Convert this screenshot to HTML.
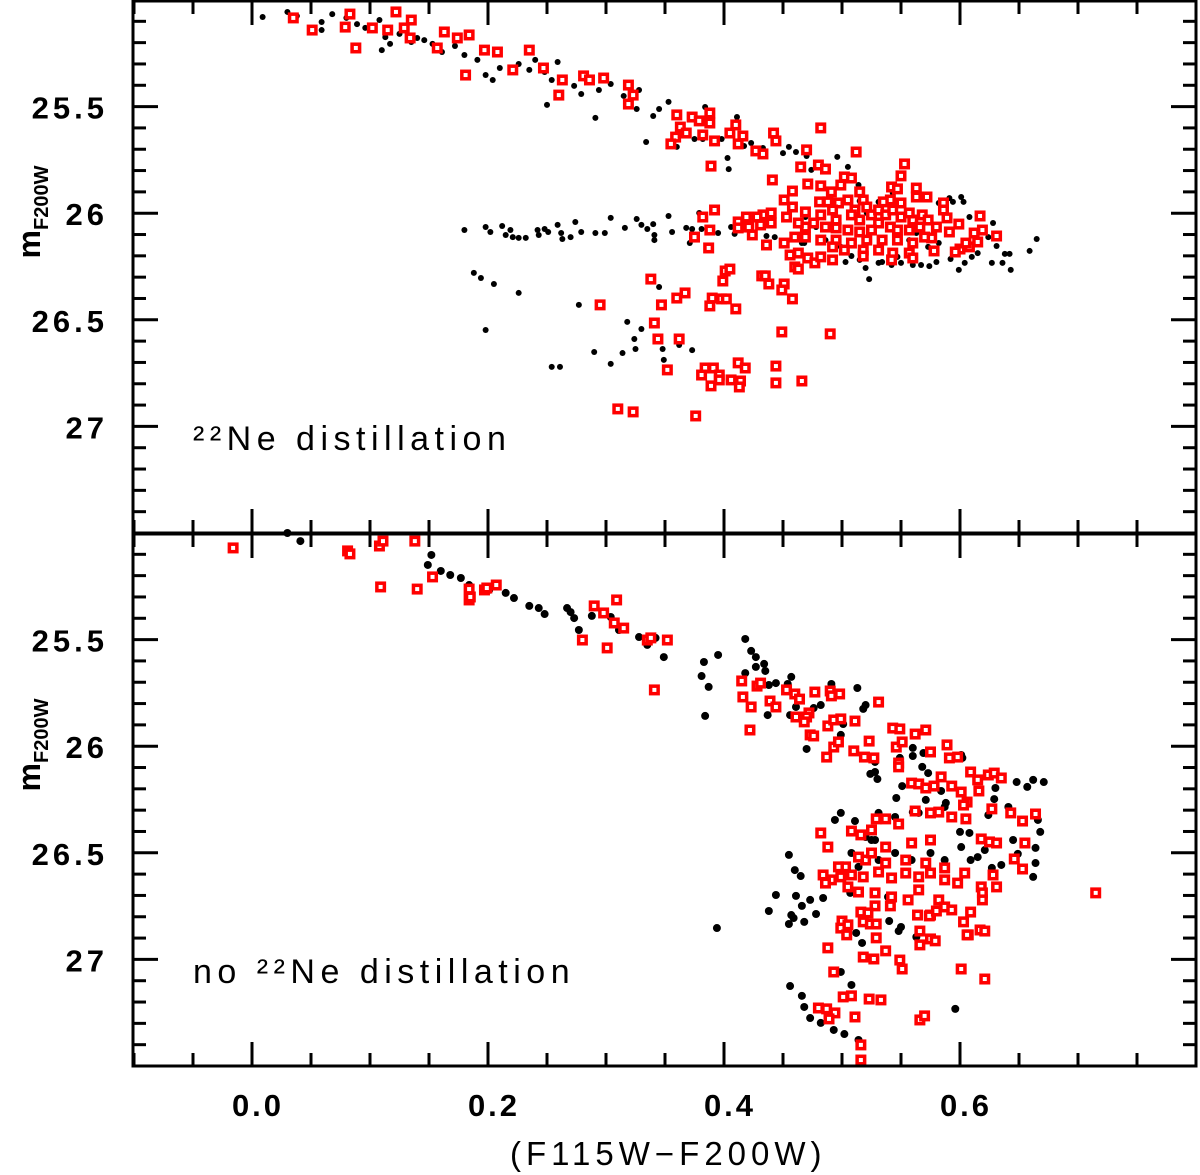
<!DOCTYPE html>
<html><head><meta charset="utf-8"><style>
html,body{margin:0;padding:0;background:#fff;}
svg{display:block;}
text{font-family:"Liberation Sans",sans-serif;font-weight:bold;fill:#000;}
</style></head><body>
<svg id="chart" width="1200" height="1175" viewBox="0 0 1200 1175" xmlns="http://www.w3.org/2000/svg">
<g id="marks-top"></g>
<g id="marks-bot"></g>
<g id="axes"></g>
<text x="193" y="450" font-size="34" letter-spacing="5.5" style="font-weight:normal">²²Ne distillation</text>
<text x="193" y="983" font-size="34" letter-spacing="5.5" style="font-weight:normal">no ²²Ne distillation</text>
<text x="510" y="1165" font-size="33" letter-spacing="5" style="font-weight:normal">(F115W−F200W)</text>
<text transform="translate(40,212) rotate(-90)" font-size="32" text-anchor="middle">m<tspan font-size="20" dy="8">F200W</tspan></text>
<text transform="translate(40,745) rotate(-90)" font-size="32" text-anchor="middle">m<tspan font-size="20" dy="8">F200W</tspan></text>
</svg>
<script>
const topBlackX=[0.009,0.030,0.038,0.059,0.059,0.068,0.080,0.089,0.096,0.108,0.110,0.113,0.117,0.125,0.135,0.140,0.146,0.153,0.161,0.172,0.180,0.191,0.198,0.204,0.210,0.220,0.226,0.235,0.240,0.248,0.250,0.254,0.259,0.265,0.273,0.279,0.291,0.294,0.304,0.315,0.328,0.326,0.340,0.345,0.353,0.384,0.334,0.360,0.375,0.382,0.398,0.411,0.417,0.423,0.433,0.403,0.404,0.450,0.455,0.461,0.470,0.474,0.496,0.505,0.514,
0.180,0.198,0.202,0.212,0.215,0.219,0.221,0.226,0.232,0.242,0.243,0.248,0.251,0.259,0.262,0.263,0.270,0.274,0.279,0.291,0.299,0.304,0.316,0.326,0.330,0.335,0.340,0.341,0.341,0.353,0.356,0.368,0.373,0.371,0.379,0.381,0.395,0.406,0.409,0.424,0.436,0.443,0.469,0.478,0.465,0.468,0.486,0.503,0.508,0.518,0.523,0.520,0.531,0.534,0.542,0.550,0.560,0.567,0.574,0.580,0.592,0.599,0.604,0.610,0.615,0.627,0.636,0.638,0.642,0.643,0.659,0.665,0.628,0.624,0.631,0.608,0.591,0.601,0.603,0.594,0.582,0.543,0.534,0.531,0.515,0.573,0.580,0.582,0.557,0.547,0.515,0.499,0.466,0.563,0.541,0.521,
0.188,0.194,0.205,0.226,0.198,0.277,0.345,0.318,0.330,0.324,0.325,0.290,0.314,0.304,0.254,0.261,0.348,0.349,0.362,0.364,0.373];
const topBlackY=[25.080,25.056,25.075,25.103,25.141,25.066,25.084,25.113,25.131,25.094,25.235,25.174,25.206,25.159,25.197,25.178,25.188,25.206,25.244,25.216,25.258,25.281,25.352,25.375,25.319,25.338,25.300,25.328,25.281,25.338,25.492,25.375,25.291,25.366,25.403,25.441,25.553,25.422,25.394,25.450,25.422,25.511,25.544,25.511,25.478,25.502,25.666,25.689,25.652,25.652,25.652,25.549,25.685,25.671,25.694,25.741,25.793,25.718,25.689,25.713,25.732,25.797,25.736,25.783,25.868,
26.079,26.065,26.088,26.060,26.102,26.079,26.112,26.116,26.116,26.079,26.102,26.074,26.088,26.055,26.093,26.121,26.112,26.041,26.088,26.093,26.093,26.022,26.069,26.027,26.055,26.074,26.051,26.102,26.126,26.013,26.088,26.069,26.074,26.140,25.999,26.074,26.093,26.065,26.097,26.102,26.107,26.112,26.018,26.065,26.102,26.140,26.126,26.229,26.201,26.205,26.309,26.257,26.233,26.229,26.243,26.233,26.243,26.243,26.248,26.229,26.215,26.266,26.233,26.205,26.187,26.233,26.233,26.191,26.191,26.266,26.177,26.121,26.046,26.112,26.154,26.018,25.929,25.924,25.947,25.947,25.952,25.905,25.938,25.947,25.943,26.158,26.173,26.140,26.126,26.205,26.219,26.158,26.140,26.093,26.065,25.999,
26.280,26.304,26.332,26.374,26.548,26.430,26.346,26.510,26.543,26.590,26.637,26.651,26.656,26.707,26.721,26.721,26.637,26.688,26.618,26.590,26.642];
const topRedX=[0.035,0.051,0.079,0.083,0.088,0.102,0.115,0.122,0.129,0.134,0.135,0.157,0.163,0.174,0.181,0.184,0.197,0.208,0.221,0.235,0.247,0.260,0.263,0.281,0.286,0.298,0.319,0.323,0.319,0.360,0.373,0.379,0.388,0.388,0.363,0.368,0.359,0.355,0.382,0.392,0.405,0.410,0.416,0.412,0.427,0.433,0.442,0.444,0.482,0.470,0.512,0.389,0.465,0.480,0.486,0.441,0.458,0.471,0.482,0.491,0.499,0.502,0.508,0.553,0.550,0.542,0.547,0.563,0.563,0.572,0.586,0.586,0.617,0.631,0.619,0.612,0.615,0.608,0.600,0.605,0.596,0.599,0.589,0.591,0.578,0.576,0.568,0.560,0.550,0.541,0.535,
0.515,0.518,0.521,0.511,0.505,0.497,0.488,0.481,0.492,0.482,0.495,0.508,0.515,0.525,0.531,0.537,0.543,0.550,0.557,0.531,0.541,0.547,0.557,0.566,0.573,0.580,0.525,0.515,0.505,0.495,0.486,0.476,0.469,0.463,0.453,0.451,0.458,0.469,0.440,0.433,0.428,0.419,0.412,0.412,0.421,0.431,0.440,0.424,0.436,0.451,0.460,0.469,0.482,0.495,0.508,0.521,0.534,0.547,0.560,0.570,0.492,0.502,0.518,0.531,0.543,0.557,0.456,0.463,0.471,0.477,0.482,0.492,0.518,0.542,0.560,0.460,0.463,0.382,0.392,0.388,0.375,0.387,
0.338,0.401,0.405,0.399,0.432,0.435,0.438,0.451,0.449,0.367,0.360,0.347,0.295,0.390,0.398,0.402,0.388,0.410,0.458,0.341,0.449,0.490,0.344,0.362,0.352,0.384,0.391,0.381,0.396,0.396,0.389,0.406,0.412,0.418,0.414,0.413,0.444,0.444,0.466,0.310,0.323,0.376];
const topRedY=[25.084,25.141,25.127,25.066,25.225,25.131,25.141,25.056,25.131,25.178,25.094,25.225,25.150,25.178,25.352,25.164,25.235,25.244,25.328,25.235,25.319,25.446,25.375,25.356,25.375,25.366,25.399,25.446,25.488,25.539,25.549,25.567,25.530,25.577,25.596,25.624,25.643,25.675,25.633,25.661,25.624,25.586,25.638,25.675,25.708,25.722,25.624,25.661,25.600,25.703,25.713,25.779,25.783,25.774,25.793,25.844,25.896,25.863,25.872,25.900,25.868,25.830,25.835,25.769,25.825,25.877,25.886,25.882,25.924,25.924,25.952,25.985,26.013,26.107,26.079,26.093,26.135,26.158,26.168,26.140,26.182,26.051,26.022,26.088,26.177,26.116,26.008,26.032,25.952,25.938,25.947,
25.900,25.938,25.971,25.985,25.938,25.952,25.947,25.947,25.985,26.008,26.032,26.008,26.032,26.008,25.985,26.008,25.985,26.018,25.999,26.046,26.065,26.079,26.079,26.065,26.032,26.065,26.079,26.088,26.079,26.069,26.065,26.046,26.065,26.046,26.018,25.938,25.971,25.994,25.999,26.008,26.018,26.018,26.041,26.069,26.065,26.055,26.046,26.102,26.149,26.140,26.112,26.112,26.126,26.126,26.140,26.126,26.126,26.126,26.140,26.112,26.158,26.173,26.173,26.173,26.187,26.187,26.196,26.187,26.210,26.233,26.205,26.219,26.201,26.219,26.210,26.252,26.262,26.018,25.985,26.079,26.112,26.163,
26.309,26.271,26.262,26.318,26.294,26.294,26.332,26.332,26.360,26.374,26.398,26.430,26.430,26.398,26.402,26.402,26.435,26.449,26.402,26.515,26.557,26.566,26.590,26.590,26.735,26.726,26.726,26.759,26.759,26.782,26.810,26.782,26.702,26.726,26.787,26.815,26.717,26.796,26.787,26.918,26.932,26.951];
const botBlackX=[0.030,0.041,0.152,0.149,0.160,0.168,0.177,0.184,0.201,0.215,0.222,0.235,0.243,0.248,0.267,0.270,0.273,0.277,0.288,0.304,0.311,0.328,0.335,0.342,0.349,0.383,0.381,0.387,0.384,0.395,0.418,0.423,0.427,0.427,0.418,0.434,0.435,0.438,0.444,0.437,0.457,0.454,0.456,0.461,0.476,0.482,0.491,0.499,0.501,0.499,0.470,0.513,0.518,0.520,0.524,0.530,0.528,0.528,0.549,0.560,0.560,0.569,0.568,0.573,0.571,0.584,0.588,0.601,0.602,0.551,0.546,0.560,0.648,0.657,0.662,0.671,0.630,0.629,0.641,0.624,0.666,0.668,0.645,0.664,0.664,0.662,0.649,0.635,0.627,
0.499,0.494,0.511,0.531,0.545,0.565,0.587,0.600,0.608,0.615,0.621,0.609,0.520,0.508,0.514,0.525,0.531,0.545,0.559,0.575,0.587,0.601,0.528,0.455,0.460,0.465,0.444,0.461,0.438,0.466,0.473,0.478,0.457,0.459,0.468,0.455,0.484,0.507,0.539,0.540,0.550,0.548,0.512,0.517,0.563,0.394,0.499,0.508,0.456,0.466,0.468,0.482,0.502,0.596,0.473,0.493,0.514];
const botBlackY=[25.000,25.038,25.103,25.150,25.178,25.197,25.211,25.244,25.267,25.281,25.305,25.342,25.352,25.380,25.352,25.371,25.399,25.455,25.389,25.394,25.455,25.488,25.525,25.492,25.582,25.605,25.671,25.722,25.858,25.572,25.497,25.553,25.582,25.628,25.657,25.614,25.647,25.713,25.704,25.854,25.675,25.708,25.854,25.816,25.821,25.807,25.708,25.755,25.896,25.947,26.013,25.727,25.825,25.807,26.130,26.154,26.121,26.074,26.055,26.008,26.046,26.032,26.097,26.126,26.252,26.210,26.266,26.041,26.055,26.187,26.243,26.309,26.168,26.191,26.158,26.168,26.196,26.248,26.285,26.323,26.346,26.402,26.440,26.477,26.548,26.613,26.505,26.557,26.571,
26.313,26.346,26.351,26.313,26.332,26.313,26.285,26.402,26.407,26.520,26.487,26.534,26.426,26.501,26.566,26.440,26.534,26.501,26.534,26.501,26.534,26.473,26.440,26.510,26.581,26.609,26.698,26.702,26.773,26.749,26.721,26.787,26.792,26.806,26.824,26.834,26.712,26.688,26.707,26.820,26.848,26.867,26.876,26.923,26.895,26.853,27.059,27.120,27.125,27.171,27.223,27.298,27.350,27.232,27.275,27.331,27.378];
const botRedX=[-0.016,0.081,0.083,0.108,0.111,0.109,0.138,0.140,0.153,0.184,0.185,0.197,0.199,0.207,0.184,0.280,0.290,0.298,0.309,0.307,0.301,0.315,0.335,0.338,0.352,0.341,0.415,0.416,0.423,0.422,0.428,0.431,0.439,0.444,0.453,0.460,0.464,0.477,0.472,0.470,0.461,0.468,0.473,0.476,0.490,0.491,0.498,0.488,0.493,0.499,0.511,0.493,0.497,0.487,0.510,0.519,0.523,0.527,0.531,0.543,0.549,0.546,0.551,0.562,0.571,0.575,0.589,0.591,0.598,0.548,0.548,0.559,0.565,0.571,0.578,0.584,0.593,0.601,0.609,0.615,0.616,0.624,0.629,0.635,0.606,0.627,0.643,0.653,0.664,0.655,0.646,0.653,0.715,
0.482,0.488,0.508,0.516,0.525,0.529,0.537,0.548,0.562,0.575,0.582,0.593,0.605,0.603,0.618,0.625,0.631,0.628,0.631,0.618,0.619,0.619,0.609,0.603,0.607,0.617,0.621,0.484,0.491,0.499,0.508,0.518,0.531,0.542,0.554,0.565,0.575,0.587,0.598,0.604,0.503,0.520,0.537,0.554,0.571,0.587,0.559,0.575,0.537,0.525,0.514,0.497,0.486,0.505,0.514,0.528,0.542,0.556,0.565,0.582,0.587,0.575,0.593,0.564,0.574,0.580,0.528,0.541,0.516,0.522,0.500,0.499,0.505,0.504,0.518,0.524,0.529,0.529,0.566,0.566,0.575,0.579,0.606,0.488,0.518,0.527,0.537,0.549,0.551,0.601,0.621,0.493,0.501,0.508,0.523,0.533,0.480,0.487,0.494,0.489,0.511,0.516,0.516,0.566,0.570];
const botRedY=[25.070,25.084,25.098,25.061,25.038,25.253,25.038,25.263,25.206,25.314,25.300,25.267,25.258,25.244,25.263,25.502,25.342,25.375,25.314,25.422,25.539,25.446,25.502,25.492,25.502,25.736,25.694,25.769,25.816,25.924,25.718,25.704,25.788,25.816,25.736,25.755,25.779,25.746,25.844,25.863,25.863,25.886,25.947,25.952,25.741,25.764,25.755,25.905,25.877,25.872,25.882,26.004,25.980,26.051,26.022,26.051,25.976,26.055,25.793,25.915,25.919,26.004,25.980,25.943,25.924,26.027,25.994,26.055,26.051,26.079,26.097,26.173,26.177,26.196,26.187,26.144,26.187,26.215,26.121,26.158,26.210,26.135,26.126,26.149,26.262,26.294,26.313,26.351,26.318,26.454,26.529,26.576,26.688,
26.407,26.473,26.398,26.416,26.393,26.341,26.341,26.365,26.304,26.313,26.309,26.332,26.341,26.276,26.435,26.449,26.454,26.604,26.660,26.660,26.688,26.721,26.778,26.824,26.885,26.862,26.867,26.604,26.627,26.613,26.604,26.613,26.590,26.618,26.595,26.613,26.595,26.627,26.642,26.595,26.566,26.534,26.548,26.534,26.548,26.571,26.454,26.440,26.473,26.501,26.520,26.566,26.642,26.660,26.684,26.688,26.707,26.721,26.674,26.721,26.754,26.792,26.768,26.792,26.796,26.773,26.749,26.749,26.778,26.782,26.820,26.853,26.838,26.885,26.824,26.834,26.834,26.899,26.867,26.932,26.904,26.913,26.885,26.946,26.989,26.998,26.960,27.003,27.045,27.045,27.092,27.059,27.176,27.171,27.186,27.190,27.228,27.232,27.251,27.279,27.270,27.401,27.472,27.284,27.265];
const xTickLabels=["0.0","0.2","0.4","0.6"];
const yTickLabels=["25.5","26","26.5","27"];

const NS="http://www.w3.org/2000/svg";
const X0=134,X1=1196,XMIN=-0.1,XMAX=0.8,YMIN=25,YMAX=27.5,PH=533;
function sx(v){return X0+(v-XMIN)/(XMAX-XMIN)*(X1-X0);}
function sy(v,off){return off+(v-YMIN)/(YMAX-YMIN)*PH;}
function mk(tag,attrs,parent){const e=document.createElementNS(NS,tag);for(const k in attrs)e.setAttribute(k,attrs[k]);parent.appendChild(e);return e;}

function drawPanel(g,off,bx,by,rx,ry,r){
  for(let i=0;i<bx.length;i++){
    const c=mk('circle',{cx:sx(bx[i]),cy:sy(by[i],off),r:r,fill:'#000'},g);
    
    
  }
  for(let i=0;i<rx.length;i++){
    const s=mk('rect',{x:sx(rx[i])-3.75,y:sy(ry[i],off)-3.75,width:7.5,height:7.5,fill:'#fff',stroke:'#f00','stroke-width':3.5},g);
    
    
  }
}
drawPanel(document.getElementById('marks-top'),0,topBlackX,topBlackY,topRedX,topRedY,3);
drawPanel(document.getElementById('marks-bot'),PH,botBlackX,botBlackY,botRedX,botRedY,4);

const ax=document.getElementById('axes');
const lw=3;
[[0,PH],[PH,2*PH]].forEach(([t,b],pi)=>{
  const r=mk('rect',{x:X0-1,y:t+1,width:X1-X0+1,height:b-t-1,fill:'none',stroke:'#000','stroke-width':lw},ax);
  
  
  for(let k=-2;k<=16;k++){
    const v=k*0.05; const px=sx(v); const major=(k%4===0); const L=major?24:13;
    mk('line',{x1:px,y1:b,x2:px,y2:b-L,stroke:'#000','stroke-width':lw},ax);
    mk('line',{x1:px,y1:t+1,x2:px,y2:t+1+L,stroke:'#000','stroke-width':lw},ax);
  }
  for(let k=1;k<25;k++){
    const v=25+k*0.1; const py=sy(v,t); const major=(k%5===0); const L=major?25:13;
    mk('line',{x1:X0-1,y1:py,x2:X0-1+L,y2:py,stroke:'#000','stroke-width':lw},ax);
    mk('line',{x1:X1,y1:py,x2:X1-L,y2:py,stroke:'#000','stroke-width':lw},ax);
  }
  yTickLabels.forEach(s=>{
    const tx=mk('text',{x:108,y:sy(parseFloat(s),t)+12,'font-size':31,'text-anchor':'end','letter-spacing':4},ax);
    tx.textContent=s;
    
    
  });
});
xTickLabels.forEach(s=>{
  const tx=mk('text',{x:sx(parseFloat(s))+6,y:1116,'font-size':31,'text-anchor':'middle','letter-spacing':3},ax);
  tx.textContent=s;
  
  
});
</script>
</body></html>
